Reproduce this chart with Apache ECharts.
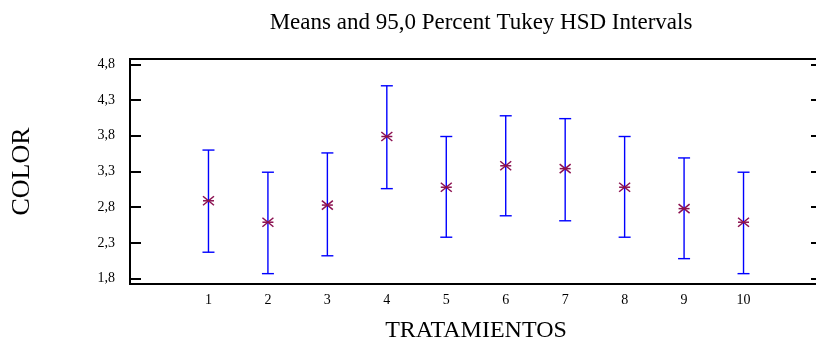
<!DOCTYPE html>
<html>
<head>
<meta charset="utf-8">
<script src="https://cdn.jsdelivr.net/npm/echarts@6/dist/echarts.min.js"></script>
<style>
  html, body { margin: 0; padding: 0; background: #fff; }
  #chart { width: 816px; height: 345px; }
</style>
</head>
<body>
<div id="chart"></div>
<script>
// Treatment numbers on the x axis
const treatments = [1, 2, 3, 4, 5, 6, 7, 8, 9, 10];
// Mean COLOR score per treatment
const means = [2.89, 2.59, 2.83, 3.79, 3.08, 3.38, 3.34, 3.08, 2.78, 2.59];
// Lower and upper ends of the 95% Tukey HSD intervals
const lower = [2.17, 1.87, 2.12, 3.06, 2.38, 2.68, 2.61, 2.38, 2.08, 1.87];
const upper = [3.60, 3.29, 3.56, 4.50, 3.79, 4.08, 4.04, 3.79, 3.49, 3.29];
// Y tick labels
const yTicks = [1.8, 2.3, 2.8, 3.3, 3.8, 4.3, 4.8];

const serif = '"Liberation Serif", "Times New Roman", serif';
const fmtComma = v => Number(v).toFixed(1).replace('.', ',');

const intervalData = treatments.map((t, i) => [t, lower[i], upper[i]]);
const meanData = treatments.map((t, i) => [t, means[i]]);

const chart = echarts.init(document.getElementById('chart'), null, { renderer: 'canvas' });

const yAxisBase = {
  type: 'value',
  min: 1.725,
  max: 4.875,
  splitLine: { show: false },
  axisLine: { show: true, onZero: false, lineStyle: { color: '#000', width: 2 } },
  axisTick: { show: true, inside: true, length: 11, customValues: yTicks,
              lineStyle: { color: '#000', width: 2 } }
};

chart.setOption({
  animation: false,
  backgroundColor: '#fff',
  title: {
    text: 'Means and 95,0 Percent Tukey HSD Intervals',
    left: 476,
    top: 6,
    textAlign: 'center',
    textStyle: { fontFamily: serif, fontSize: 23, fontWeight: 'normal', color: '#000' }
  },
  grid: {
    left: 130, top: 59, width: 692, height: 225,
    outerBoundsMode: 'none',
    show: true, borderColor: '#000', borderWidth: 2, backgroundColor: 'transparent'
  },
  xAxis: {
    type: 'value',
    min: -0.32,
    max: 11.32,
    name: 'TRATAMIENTOS',
    nameLocation: 'middle',
    nameGap: 35,
    nameTextStyle: { fontFamily: serif, fontSize: 24, color: '#000' },
    splitLine: { show: false },
    axisLine: { show: true, onZero: false, lineStyle: { color: '#000', width: 2 } },
    axisTick: { show: false },
    axisLabel: {
      customValues: treatments,
      margin: 9,
      fontFamily: serif, fontSize: 14, color: '#000'
    }
  },
  yAxis: [
    Object.assign({}, yAxisBase, {
      position: 'left',
      name: 'COLOR',
      nameLocation: 'middle',
      nameGap: 95,
      nameTextStyle: { fontFamily: serif, fontSize: 26, color: '#000' },
      axisLabel: {
        customValues: yTicks,
        formatter: fmtComma,
        margin: 15,
        fontFamily: serif, fontSize: 14, color: '#000'
      }
    }),
    Object.assign({}, yAxisBase, {
      position: 'right',
      axisLabel: { show: false }
    })
  ],
  series: [
    {
      // Interval whiskers with end caps
      type: 'custom',
      data: intervalData,
      renderItem: function (params, api) {
        const x = api.value(0);
        const lo = api.coord([x, api.value(1)]);
        const hi = api.coord([x, api.value(2)]);
        const cap = 6;
        const style = { stroke: '#0000ff', lineWidth: 1.4, fill: null };
        return {
          type: 'group',
          children: [
            { type: 'line', shape: { x1: lo[0], y1: lo[1], x2: hi[0], y2: hi[1] }, style: style },
            { type: 'line', shape: { x1: hi[0] - cap, y1: hi[1], x2: hi[0] + cap, y2: hi[1] }, style: style },
            { type: 'line', shape: { x1: lo[0] - cap, y1: lo[1], x2: lo[0] + cap, y2: lo[1] }, style: style }
          ]
        };
      },
      z: 2
    },
    {
      // Asterisk marking each mean
      type: 'custom',
      data: meanData,
      renderItem: function (params, api) {
        const p = api.coord([api.value(0), api.value(1)]);
        const w = 5.5, h = 4.5;
        const style = { stroke: '#8b1050', lineWidth: 1.5, fill: null };
        return {
          type: 'group',
          children: [
            { type: 'line', shape: { x1: p[0] - w, y1: p[1] - h, x2: p[0] + w, y2: p[1] + h }, style: style },
            { type: 'line', shape: { x1: p[0] - w, y1: p[1] + h, x2: p[0] + w, y2: p[1] - h }, style: style },
            { type: 'line', shape: { x1: p[0] - w, y1: p[1], x2: p[0] + w, y2: p[1] }, style: style }
          ]
        };
      },
      z: 3
    }
  ]
});
</script>
</body>
</html>
